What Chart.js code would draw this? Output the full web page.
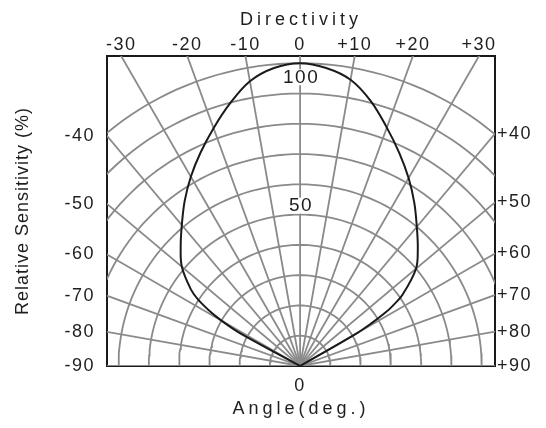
<!DOCTYPE html>
<html>
<head>
<meta charset="utf-8">
<script src="https://cdn.jsdelivr.net/npm/chart.js@4.4.1/dist/chart.umd.min.js"></script>
<style>
html,body{margin:0;padding:0;background:#fff;}
#wrap{width:546px;height:428px;position:relative;}
</style>
</head>
<body>
<div id="wrap"><canvas id="c"></canvas></div>
<script>
// ---- data ----
const curveAngles = [-61.7, -61.5, -61, -60, -59, -57, -55, -50, -45, -40, -35, -30, -25, -20, -15, -10, -5, 0,
                     5, 10, 15, 20, 25, 30, 35, 40, 45, 50, 55, 57, 58, 59, 60, 60.3];
const curveSensitivity = [0, 20, 25, 30, 34, 40, 44, 51, 55.8, 60.8, 66.5, 72.2, 77.8, 83.6, 89.7, 95.5, 98.8, 100,
                          98.8, 96, 90.5, 83.8, 77.6, 71.7, 65.8, 60, 55, 50, 41.5, 36.5, 33, 28, 21.6, 0];

const ringValues = [10, 20, 30, 40, 50, 60, 70, 80, 90, 100];
const spokeAngles = [-90, -80, -70, -60, -50, -40, -30, -20, -10, 0, 10, 20, 30, 40, 50, 60, 70, 80, 90];
const topTickAngles = [-30, -20, -10, 0, 10, 20, 30];
const topTickLabels = ['-30', '-20', '-10', '0', '+10', '+20', '+30'];
const leftTickAngles = [40, 50, 60, 70, 80, 90];
const leftTickLabels = ['-40', '-50', '-60', '-70', '-80', '-90'];
const rightTickAngles = [40, 50, 60, 70, 80, 90];
const rightTickLabels = ['+40', '+50', '+60', '+70', '+80', '+90'];
const bottomTickValues = [0];
const bottomTickLabels = ['0'];
const ringLabelValues = [100, 50];

const X_MIN = -63.8, X_MAX = 64.4, Y_MAX = 102.4;

// ---- helpers ----
const rad = d => d * Math.PI / 180;
const polar = (a, r) => ({ x: r * Math.sin(rad(a)), y: r * Math.cos(rad(a)) });
const FONT = '"Liberation Sans", Arial, Helvetica, sans-serif';
const TEXT = '#1e1e1e';
const GRID = '#8a8a8a';
Chart.defaults.font.family = FONT;
Chart.defaults.color = TEXT;

const arcSteps = [];
for (let a = -90; a <= 90; a += 2) arcSteps.push(a);

const datasets = [];
datasets.push({
  label: 'Directivity',
  data: curveAngles.map((a, i) => polar(a, curveSensitivity[i])),
  showLine: true, borderColor: '#1a1a1a', borderWidth: 2, pointRadius: 0, tension: 0.35, clip: 0
});
ringValues.forEach(r => datasets.push({
  data: arcSteps.map(a => polar(a, r)),
  showLine: true, borderColor: GRID, borderWidth: 1.8, pointRadius: 0, tension: 0, clip: 0
}));
spokeAngles.forEach(a => datasets.push({
  data: [polar(a, 0), polar(a, 140)],
  showLine: true, borderColor: GRID, borderWidth: 1.8, pointRadius: 0, tension: 0, clip: 0
}));

const tickFont = { size: 18, family: FONT };
const titleFont = { size: 18, family: FONT };
const noGrid = { display: false, drawTicks: false };
const frame = { display: true, color: '#1a1a1a', width: 2 };

// letter spacing for ticks / titles
const spacing = {
  x:  { ticks: '1.5px', title: '4px' },
  x2: { ticks: '1.5px', title: '4px' },
  y:  { ticks: '1.5px', title: '1px' },
  y2: { ticks: '1.5px', title: '1px' }
};
function withSpacing(fn, sp) {
  return function (...args) {
    const c = this.ctx; const prev = c.letterSpacing;
    c.letterSpacing = sp;
    try { return fn.apply(this, args); } finally { c.letterSpacing = prev; }
  };
}
const spacingPlugin = {
  id: 'spacing',
  beforeDraw(chart) {
    Object.keys(spacing).forEach(id => {
      const s = chart.scales[id];
      if (s && !s._spacedPatched) {
        s.drawLabels = withSpacing(s.drawLabels, spacing[id].ticks);
        s.drawTitle = withSpacing(s.drawTitle, spacing[id].title);
        s._spacedPatched = true;
      }
    });
  }
};

const ringLabelPlugin = {
  id: 'ringLabels',
  afterDatasetsDraw(chart) {
    const { ctx, scales: { x, y } } = chart;
    ctx.save();
    ctx.font = '19px ' + FONT;
    ctx.letterSpacing = '1.5px';
    ctx.textAlign = 'center';
    ctx.textBaseline = 'middle';
    ringLabelValues.forEach(v => {
      const px = x.getPixelForValue(0);
      const py = y.getPixelForValue(v) + (v === 100 ? 14 : -9);
      const w = ctx.measureText(String(v)).width + 2;
      ctx.fillStyle = '#fff';
      ctx.fillRect(px - w / 2, py - 8, w, 16);
      ctx.fillStyle = TEXT;
      ctx.fillText(String(v), px + 1, py);
    });
    ctx.restore();
  }
};

new Chart(document.getElementById('c'), {
  type: 'scatter',
  data: { datasets },
  options: {
    responsive: true, maintainAspectRatio: false, animation: false,
    layout: { padding: 0 },
    plugins: { legend: { display: false }, tooltip: { enabled: false } },
    scales: {
      x: {
        type: 'linear', position: 'bottom', min: X_MIN, max: X_MAX,
        afterBuildTicks: s => { s.ticks = bottomTickValues.map(v => ({ value: v })); },
        ticks: { callback: (v, i) => bottomTickLabels[i], autoSkip: false, maxRotation: 0, padding: 9, font: tickFont, color: TEXT },
        grid: noGrid, border: frame,
        title: { display: true, text: 'Angle(deg.)', font: titleFont, color: TEXT, padding: { top: 0, bottom: 8 } },
        afterFit: s => { s.height = 62; }
      },
      x2: {
        type: 'linear', position: 'top', min: X_MIN, max: X_MAX,
        afterBuildTicks: s => { s.ticks = topTickAngles.map(a => ({ value: Y_MAX * Math.tan(rad(a)) })); },
        ticks: { callback: (v, i) => topTickLabels[i], autoSkip: false, maxRotation: 0, padding: 0, font: tickFont, color: TEXT },
        grid: noGrid, border: frame,
        title: { display: true, text: 'Directivity', font: titleFont, color: TEXT, padding: { top: 9, bottom: 0 } },
        afterFit: s => { s.height = 56; }
      },
      y: {
        type: 'linear', position: 'left', min: 0, max: Y_MAX,
        afterBuildTicks: s => { s.ticks = leftTickAngles.map(a => ({ value: Math.abs(X_MIN) / Math.tan(rad(a)) })); },
        ticks: { callback: (v, i) => leftTickLabels[i], autoSkip: false, padding: 12, font: tickFont, color: TEXT },
        grid: noGrid, border: frame,
        title: { display: true, text: 'Relative Sensitivity (%)', font: titleFont, color: TEXT, padding: { top: 12, bottom: 0 } },
        afterFit: s => { s.width = 107; }
      },
      y2: {
        type: 'linear', position: 'right', min: 0, max: Y_MAX,
        afterBuildTicks: s => { s.ticks = rightTickAngles.map(a => ({ value: X_MAX / Math.tan(rad(a)) })); },
        ticks: { callback: (v, i) => rightTickLabels[i], autoSkip: false, padding: 2, font: tickFont, color: TEXT },
        grid: noGrid, border: frame,
        afterFit: s => { s.width = 51; }
      }
    }
  },
  plugins: [spacingPlugin, ringLabelPlugin]
});
</script>
</body>
</html>
